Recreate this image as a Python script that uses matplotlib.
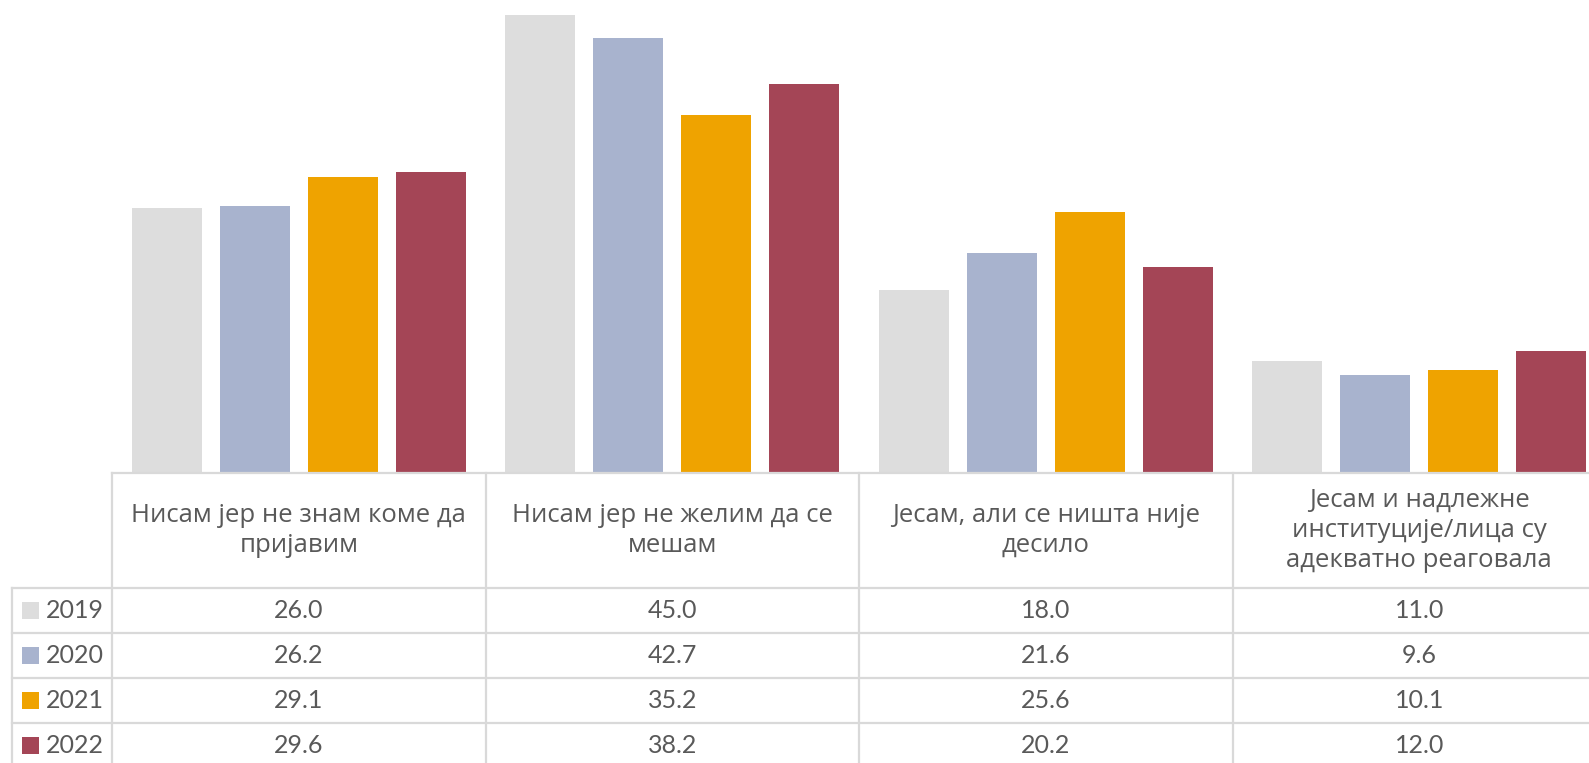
import matplotlib
matplotlib.use("Agg")
import matplotlib.pyplot as plt
from matplotlib.patches import Rectangle

# Data
categories = [
    "Нисам јер не знам коме да\nпријавим",
    "Нисам јер не желим да се\nмешам",
    "Јесам, али се ништа није\nдесило",
    "Јесам и надлежне\nинституције/лица су\nадекватно реаговала",
]
years = ["2019", "2020", "2021", "2022"]
values_2019 = [26.0, 45.0, 18.0, 11.0]
values_2020 = [26.2, 42.7, 21.6, 9.6]
values_2021 = [29.1, 35.2, 25.6, 10.1]
values_2022 = [29.6, 38.2, 20.2, 12.0]
series = [values_2019, values_2020, values_2021, values_2022]
colors = ["#DDDDDD", "#A8B3CE", "#EFA300", "#A44556"]

W, H = 1589, 763
fig = plt.figure(figsize=(W / 100, H / 100), dpi=100)
fig.patch.set_facecolor("white")

FONT = ["Lato", "DejaVu Sans"]
HFONT = ["Open Sans", "DejaVu Sans"]
TXT = "#595959"
GRID = "#D9D9D9"

# Layout in pixels
col_left = 112
col_w = 373.5
base_y = 473
px_per_unit = 10.18
label_left = 12
header_bottom = 588
row_h = 45

# Bar chart axes
ax = fig.add_axes([col_left / W, (H - base_y) / H, (W - col_left) / W, base_y / H])
ax.set_xlim(0, (W - col_left) / col_w)
ax.set_ylim(0, base_y / px_per_unit)
ax.axis("off")

pitch = 0.2356
bw = 0.1874
for k, vals in enumerate(series):
    xs = [i + 0.5 + (k - 1.5) * pitch for i in range(len(categories))]
    ax.bar(xs, vals, width=bw, color=colors[k], edgecolor="none", zorder=2)

# Data table overlay
ov = fig.add_axes([0, 0, 1, 1])
ov.set_xlim(0, W)
ov.set_ylim(H, 0)
ov.axis("off")
ov.patch.set_alpha(0)

lw = 1.6
# horizontal lines
ov.plot([col_left, W], [base_y, base_y], color=GRID, lw=lw)
for r in range(len(years) + 1):
    y = header_bottom + r * row_h
    ov.plot([label_left, W], [y, y], color=GRID, lw=lw)
# vertical lines
ov.plot([label_left, label_left], [header_bottom, H], color=GRID, lw=lw)
for c in range(len(categories) + 1):
    x = col_left + c * col_w
    ov.plot([x, x], [base_y, H], color=GRID, lw=lw)

# header text
for c, cat in enumerate(categories):
    ov.text(col_left + (c + 0.5) * col_w, (base_y + header_bottom) / 2, cat,
            ha="center", va="center", fontsize=18.5, color=TXT, family=HFONT,
            linespacing=1.28)

# rows: legend key, year, values
for r, (yr, vals) in enumerate(zip(years, series)):
    yc = header_bottom + (r + 0.5) * row_h
    ov.add_patch(Rectangle((22, yc - 8.5), 17, 17, color=colors[r], lw=0))
    ov.text(46, yc, yr, ha="left", va="center", fontsize=18, color=TXT, family=FONT)
    for c, v in enumerate(vals):
        ov.text(col_left + (c + 0.5) * col_w, yc, f"{v:.1f}", ha="center",
                va="center", fontsize=18, color=TXT, family=FONT)

fig.savefig("out.png", dpi=100, facecolor="white")
